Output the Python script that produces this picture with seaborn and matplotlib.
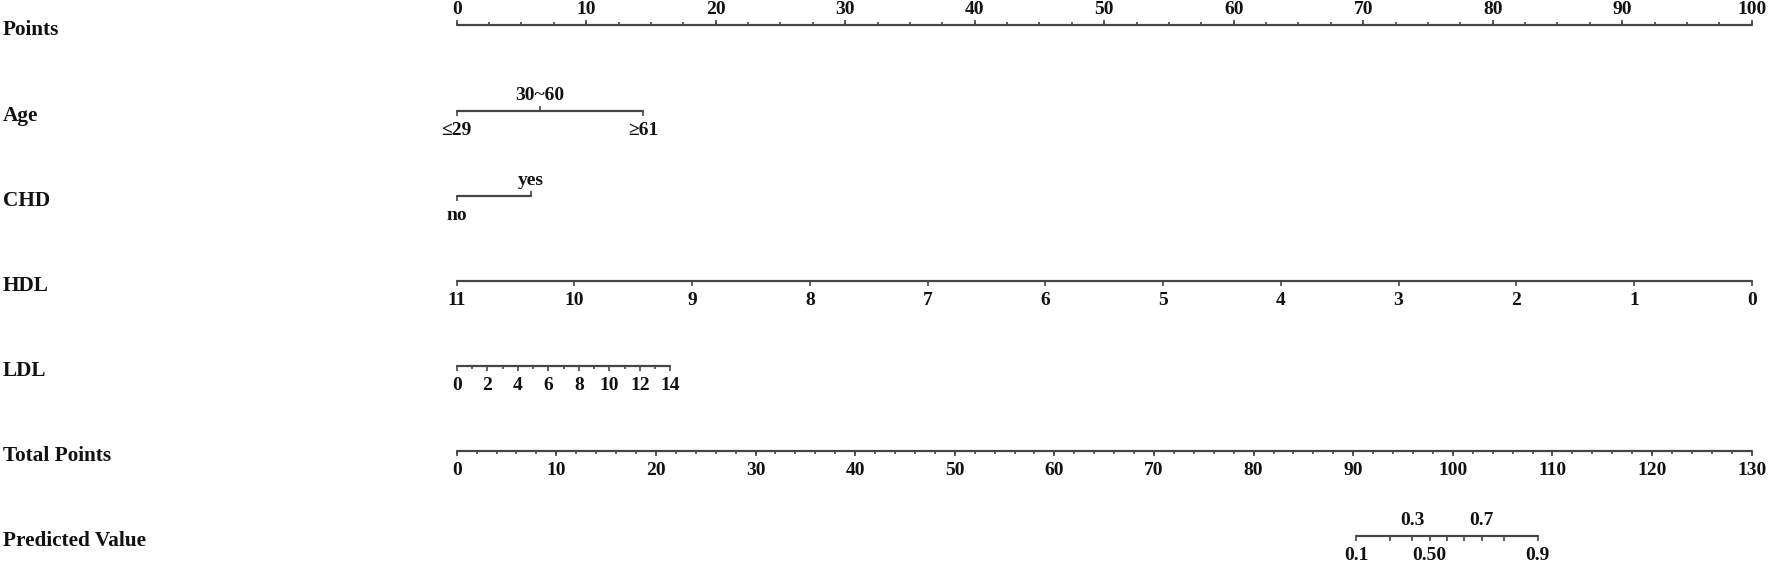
import matplotlib
matplotlib.use("Agg")
import matplotlib.pyplot as plt
import numpy as np
import pandas as pd
import seaborn as sns

# ---- nomogram scales (values and their position on the 0-100 Points scale) ----
points_major = np.arange(0, 101, 10)
points_minor = np.arange(0, 100.1, 2.5)

age_levels = ["≤29", "30~60", "≥61"]
age_points = [0, 6.4, 14.4]
age_sides = ["below", "above", "below"]

chd_levels = ["no", "yes"]
chd_points = [0, 5.7]
chd_sides = ["below", "above"]

hdl_values = list(range(11, -1, -1))
hdl_at_0, hdl_at_100 = 11, 0

ldl_values = list(range(0, 15))
ldl_labelled = list(range(0, 15, 2))
ldl_max_points = 16.5

total_major = np.arange(0, 131, 10)
total_minor = np.arange(0, 131, 2)
total_max = 130

pred_values = [0.1, 0.2, 0.3, 0.4, 0.5, 0.6, 0.7, 0.8, 0.9]
pred_total_points = [90.3, 93.7, 95.9, 97.7, 99.4, 101.1, 102.9, 105.1, 108.5]
pred_labels = {0.1: "0.1", 0.3: "0.3", 0.5: "0.50", 0.7: "0.7", 0.9: "0.9"}
pred_sides = {0.1: "below", 0.3: "above", 0.5: "below", 0.7: "above", 0.9: "below"}
pred_align = {0.1: "center", 0.3: "center", 0.5: "right", 0.7: "center", 0.9: "center"}

row_names = ["Points", "Age", "CHD", "HDL", "LDL", "Total Points", "Predicted Value"]

# ---- layout (pixel rows) ----
ROW_Y = dict(zip(row_names, [25, 111, 196, 281, 366, 451, 536]))
LINE_COLOR = "#454545"
TEXT_COLOR = "#111111"
FONT = ["Liberation Serif", "DejaVu Serif"]
TICK_FS = 14
LABEL_FS = 15.3
MAJOR = 5
MINOR = 3

sns.set_style("white")
plt.rcParams["font.family"] = FONT
plt.rcParams["font.weight"] = "bold"

fig = plt.figure(figsize=(17.72, 5.64), dpi=100)
ax = fig.add_axes([0, 0, 1, 1])
ax.set_xlim(-35.27, 101.57)
ax.set_ylim(564, 0)
ax.axis("off")


def hdl_to_points(v):
    return (v - hdl_at_0) / (hdl_at_100 - hdl_at_0) * 100


def ldl_to_points(v):
    return v / ldl_values[-1] * ldl_max_points


def total_to_points(t):
    return np.asarray(t) / total_max * 100


# axis lines through seaborn
segments = {
    "Points": (points_major[0], points_major[-1]),
    "Age": (age_points[0], age_points[-1]),
    "CHD": (chd_points[0], chd_points[-1]),
    "HDL": (hdl_to_points(hdl_values[0]), hdl_to_points(hdl_values[-1])),
    "LDL": (ldl_to_points(ldl_values[0]), ldl_to_points(ldl_values[-1])),
    "Total Points": tuple(total_to_points([total_major[0], total_major[-1]])),
    "Predicted Value": tuple(total_to_points([pred_total_points[0], pred_total_points[-1]])),
}
rows = []
for name, (a, b) in segments.items():
    rows.append({"row": name, "x": a, "y": ROW_Y[name]})
    rows.append({"row": name, "x": b, "y": ROW_Y[name]})
line_df = pd.DataFrame(rows)
sns.lineplot(data=line_df, x="x", y="y", units="row", estimator=None,
             color=LINE_COLOR, linewidth=1.6, ax=ax, legend=False)


def ticks(xs, y, length, side):
    sign = -1 if side == "above" else 1
    ax.vlines(xs, y, y + sign * length, color=LINE_COLOR, linewidth=1.2)


def label(x, y, text, side, ha="center"):
    if side == "above":
        ax.text(x, y - 11, text, ha=ha, va="baseline", fontsize=TICK_FS,
                color=TEXT_COLOR, fontweight="bold")
    else:
        ax.text(x, y + 24, text, ha=ha, va="baseline", fontsize=TICK_FS,
                color=TEXT_COLOR, fontweight="bold")


# Points
y = ROW_Y["Points"]
ticks(points_minor, y, MINOR, "above")
ticks(points_major, y, MAJOR, "above")
for v in points_major:
    label(v, y, f"{v:d}", "above")

# Age
y = ROW_Y["Age"]
for lvl, p, side in zip(age_levels, age_points, age_sides):
    ticks([p], y, MAJOR, side)
    label(p, y, lvl, side)

# CHD
y = ROW_Y["CHD"]
for lvl, p, side in zip(chd_levels, chd_points, chd_sides):
    ticks([p], y, MAJOR, side)
    label(p, y, lvl, side)

# HDL
y = ROW_Y["HDL"]
for v in hdl_values:
    p = hdl_to_points(v)
    ticks([p], y, MAJOR, "below")
    label(p, y, str(v), "below")

# LDL
y = ROW_Y["LDL"]
for v in ldl_values:
    p = ldl_to_points(v)
    ticks([p], y, MAJOR if v in ldl_labelled else MINOR, "below")
    if v in ldl_labelled:
        label(p, y, str(v), "below")

# Total Points
y = ROW_Y["Total Points"]
ticks(total_to_points(total_minor), y, MINOR, "below")
ticks(total_to_points(total_major), y, MAJOR, "below")
for v in total_major:
    label(total_to_points(v), y, f"{v:d}", "below")

# Predicted Value
y = ROW_Y["Predicted Value"]
for v, t in zip(pred_values, pred_total_points):
    p = total_to_points(t)
    ticks([p], y, MAJOR, "below")
    if v in pred_labels:
        label(p, y, pred_labels[v], pred_sides[v], ha=pred_align[v])

# row names
for name in row_names:
    ax.text(0.0015, ROW_Y[name] + 5, name, transform=ax.get_yaxis_transform(),
            ha="left", va="center", fontsize=LABEL_FS, color=TEXT_COLOR,
            fontweight="bold")

fig.savefig("out.png", dpi=100, facecolor="white")
